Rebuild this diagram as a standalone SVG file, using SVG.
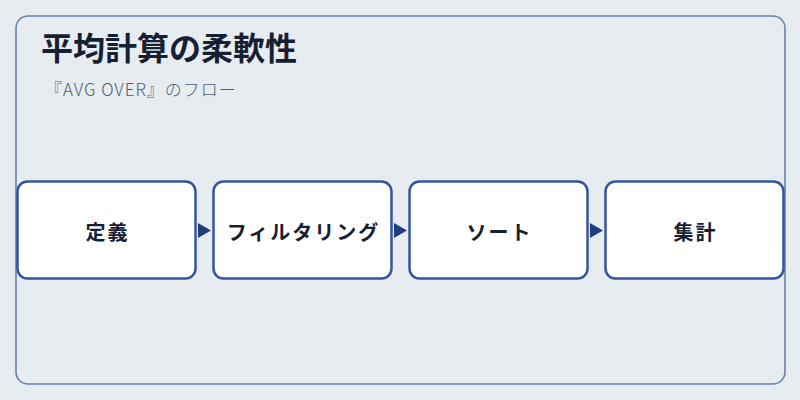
<svg xmlns="http://www.w3.org/2000/svg" width="800" height="400" viewBox="0 0 800 400">
<defs>
<style>
.bg{fill:#e7ecf1}
.frame{fill:#e7ecf1;stroke:#6b80aa;stroke-width:1.6}
.title{font-family:"Noto Sans CJK JP","Noto Sans",sans-serif;font-weight:700;font-size:32px;fill:#172033}
.sub{font-family:"Noto Sans CJK JP","Noto Sans",sans-serif;font-weight:300;font-size:17px;fill:#4c5b76;letter-spacing:1px}
.box{fill:#ffffff;stroke:#3456a0;stroke-width:2.5}
.lbl{font-family:"Noto Sans CJK JP","Noto Sans",sans-serif;font-weight:700;font-size:20px;fill:#172033;text-anchor:middle;dominant-baseline:central;letter-spacing:2px}
.arr{fill:#213e7c}
</style>
</defs>
<rect class="bg" x="0" y="0" width="800" height="400"/>
<rect class="frame" x="16" y="16" width="769" height="368" rx="12"/>
<text class="title" x="41" y="60">平均計算の柔軟性</text>
<text class="sub" x="45" y="96">『AVG OVER』のフロー</text>
<g id="connectors">
<polygon class="arr" points="198,223 211,230.5 198,238"/>
<polygon class="arr" points="394,223 407,230.5 394,238"/>
<polygon class="arr" points="590,223 603,230.5 590,238"/>
</g>
<g id="node-define">
<rect class="box" x="17.5" y="181.5" width="178" height="97" rx="10"/>
<text class="lbl" x="107.5" y="231">定義</text>
</g>
<g id="node-filter">
<rect class="box" x="213.5" y="181.5" width="178" height="97" rx="10"/>
<text class="lbl" x="303.5" y="231">フィルタリング</text>
</g>
<g id="node-sort">
<rect class="box" x="409.5" y="181.5" width="178" height="97" rx="10"/>
<text class="lbl" x="499.5" y="231">ソート</text>
</g>
<g id="node-aggregate">
<rect class="box" x="605.5" y="181.5" width="178" height="97" rx="10"/>
<text class="lbl" x="695.5" y="231">集計</text>
</g>
</svg>
